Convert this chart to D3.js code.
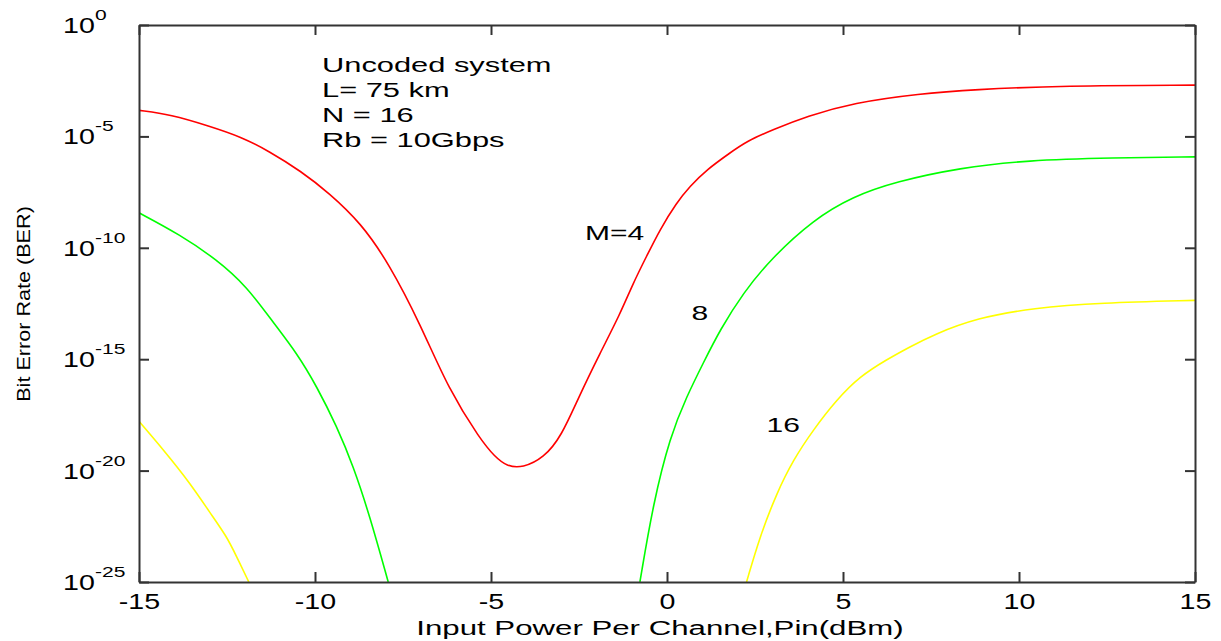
<!DOCTYPE html>
<html lang="en">
<head>
<meta charset="utf-8">
<title>BER vs input power</title>
<script src="https://d3js.org/d3.v7.min.js"></script>
<style>
  body { margin: 0; background: #fff; }
  text { font-family: 'Liberation Sans', Arial, sans-serif; fill: #000; }
</style>
</head>
<body>
<script>
var w = 1221, h = 641;
var margin = {top: 25, right: 26, bottom: 59, left: 139};
var iw = w - margin.left - margin.right;
var ih = h - margin.top - margin.bottom;

// x ticks (dBm) and y tick exponents (10^k)
var xTicks = [-15, -10, -5, 0, 5, 10, 15];
var yExp = [0, -5, -10, -15, -20, -25];

// M = 4 (red), log10(BER)
var pinM4 = [-15, -14.1, -13, -12.1, -11.3, -10.4, -9.6, -8.7, -7.9, -7.0, -6.2, -5.3, -4.9, -4.55, -4.1, -3.5, -3.0, -2.5, -1.9, -1.34, -0.96, -0.58, -0.2, 0.27, 0.65, 1.13, 1.79, 2.26, 3.02, 3.97, 5.29, 7.19, 8.7, 11.25, 15];
var logM4 = [-3.83, -4.02, -4.54, -5.02, -5.67, -6.56, -7.54, -8.88, -10.7, -13.45, -16.37, -18.61, -19.36, -19.81, -19.88, -19.43, -18.46, -16.67, -14.72, -13.0, -11.58, -10.38, -9.18, -7.98, -7.24, -6.49, -5.74, -5.22, -4.69, -4.1, -3.49, -3.08, -2.9, -2.72, -2.7];

// M = 8 (green), two branches that leave through the bottom of the axes
var pinM8a = [-15, -13.84, -12.79, -11.94, -11.18, -10.52, -9.95, -9.38, -8.91, -8.44, -7.92];
var logM8a = [-8.43, -9.41, -10.53, -11.73, -13.37, -14.72, -16.22, -18.02, -19.81, -22.06, -25];
var pinM8b = [-0.77, -0.39, 0.09, 0.56, 1.03, 1.51, 2.17, 2.93, 4.16, 5.29, 6.5, 8.32, 10.22, 12.68, 15];
var logM8b = [-25, -21.45, -18.46, -16.67, -15.17, -13.67, -12.02, -10.53, -8.73, -7.69, -7.03, -6.41, -6.07, -5.96, -5.92];

// M = 16 (yellow)
var pinM16a = [-15, -14.31, -13.55, -12.98, -12.51, -12.23, -11.88];
var logM16a = [-17.79, -19.06, -20.56, -21.9, -22.95, -23.85, -25];
var pinM16b = [2.26, 2.64, 3.12, 3.59, 4.16, 4.82, 5.48, 6.24, 6.9, 7.57, 8.8, 10.41, 12.3, 15];
var logM16b = [-25, -22.95, -21.0, -19.51, -18.16, -16.82, -15.77, -15.02, -14.45, -13.9, -13.15, -12.7, -12.47, -12.36];

var infoLines = ['Uncoded system', 'L= 75 km', 'N = 16', 'Rb = 10Gbps'];
var curveLabels = ['M=4', '8', '16'];
var labelPin = [-2.33, 0.7, 2.83];
var labelLog = [-9.63, -13.26, -18.28];

function pts(xs, ls) {
    return xs.map(function(x, i) { return [x, Math.pow(10, ls[i])]; });
}
var series = [
    {color: '#ff0000', data: pts(pinM4, logM4)},
    {color: '#00ff00', data: pts(pinM8a, logM8a)},
    {color: '#00ff00', data: pts(pinM8b, logM8b)},
    {color: '#ffff00', data: pts(pinM16a, logM16a)},
    {color: '#ffff00', data: pts(pinM16b, logM16b)}
];

// stretch text horizontally like the wide original
function stretch(sel, f) {
    sel.each(function() {
        var n = this.getComputedTextLength();
        d3.select(this).attr('textLength', n * f).attr('lengthAdjust', 'spacingAndGlyphs');
    });
}

var x = d3.scaleLinear().domain([-15, 15]).range([0, iw]);
var y = d3.scaleLog().domain([1e-25, 1]).range([ih, 0]);

var svg = d3.select('body').append('svg')
    .attr('width', w)
    .attr('height', h);

var g = svg.append('g').attr('transform', 'translate(' + margin.left + ',' + margin.top + ')');

g.append('clipPath').attr('id', 'plotclip')
    .append('rect').attr('width', iw).attr('height', ih);

var line = d3.line()
    .x(function(d) { return x(d[0]); })
    .y(function(d) { return y(d[1]); })
    .curve(d3.curveBasis);

g.append('g').attr('clip-path', 'url(#plotclip)')
    .selectAll('path')
    .data(series)
    .enter()
    .append('path')
    .attr('d', function(d) { return line(d.data); })
    .attr('fill', 'none')
    .attr('stroke', function(d) { return d.color; })
    .attr('stroke-width', 1.6);

// axes, ticks pointing inward on all four sides
var axisColor = '#333';
var xb = g.append('g').attr('transform', 'translate(0,' + ih + ')')
    .call(d3.axisBottom(x).tickValues(xTicks).tickSizeInner(-10).tickSizeOuter(0).tickPadding(11)
        .tickFormat(function(d) { return d; }));
xb.selectAll('text').attr('font-size', '22px').attr('font-family', "'Liberation Sans', Arial, sans-serif").call(stretch, 1.3);

g.append('g')
    .call(d3.axisTop(x).tickValues(xTicks).tickSizeInner(-10).tickSizeOuter(0).tickFormat(''));
g.append('g')
    .call(d3.axisLeft(y).tickValues(yExp.map(function(k) { return Math.pow(10, k); }))
        .tickSizeInner(-10).tickSizeOuter(0).tickFormat(''));
g.append('g').attr('transform', 'translate(' + iw + ',0)')
    .call(d3.axisRight(y).tickValues(yExp.map(function(k) { return Math.pow(10, k); }))
        .tickSizeInner(-10).tickSizeOuter(0).tickFormat(''));

g.selectAll('.domain, .tick line').attr('stroke', axisColor).attr('stroke-width', 2);

// y tick labels 10^k
var yl = g.append('g');
yl.selectAll('text.base')
    .data(yExp)
    .enter()
    .append('text')
    .attr('class', 'base')
    .attr('x', -76)
    .attr('y', function(k) { return y(Math.pow(10, k)) + 8; })
    .attr('font-size', '22px')
    .text('10')
    .call(stretch, 1.3);
yl.selectAll('text.sup')
    .data(yExp)
    .enter()
    .append('text')
    .attr('class', 'sup')
    .attr('x', -44)
    .attr('y', function(k) { return y(Math.pow(10, k)) - 5; })
    .attr('font-size', '15px')
    .text(function(k) { return k === 0 ? '0' : String(k); })
    .call(stretch, 1.4);

// info block
g.append('g').selectAll('text')
    .data(infoLines)
    .enter()
    .append('text')
    .attr('x', x(-9.8))
    .attr('y', function(d, i) { return 47 + i * 25; })
    .attr('font-size', '19.5px')
    .text(function(d) { return d; })
    .call(stretch, 1.58);

// curve labels
g.append('g').selectAll('text')
    .data(curveLabels)
    .enter()
    .append('text')
    .attr('x', function(d, i) { return x(labelPin[i]); })
    .attr('y', function(d, i) { return y(Math.pow(10, labelLog[i])); })
    .attr('font-size', '20px')
    .text(function(d) { return d; })
    .call(stretch, 1.5);

// axis titles
svg.append('text')
    .attr('x', margin.left + x(-0.2))
    .attr('y', 635)
    .attr('text-anchor', 'middle')
    .attr('font-size', '20px')
    .text('Input Power Per Channel,Pin(dBm)')
    .call(stretch, 1.56);

svg.append('text')
    .attr('transform', 'translate(30,' + 304 + ') rotate(-90)')
    .attr('text-anchor', 'middle')
    .attr('font-size', '18px')
    .text('Bit Error Rate (BER)')
    .call(stretch, 1.2);
</script>
</body>
</html>
